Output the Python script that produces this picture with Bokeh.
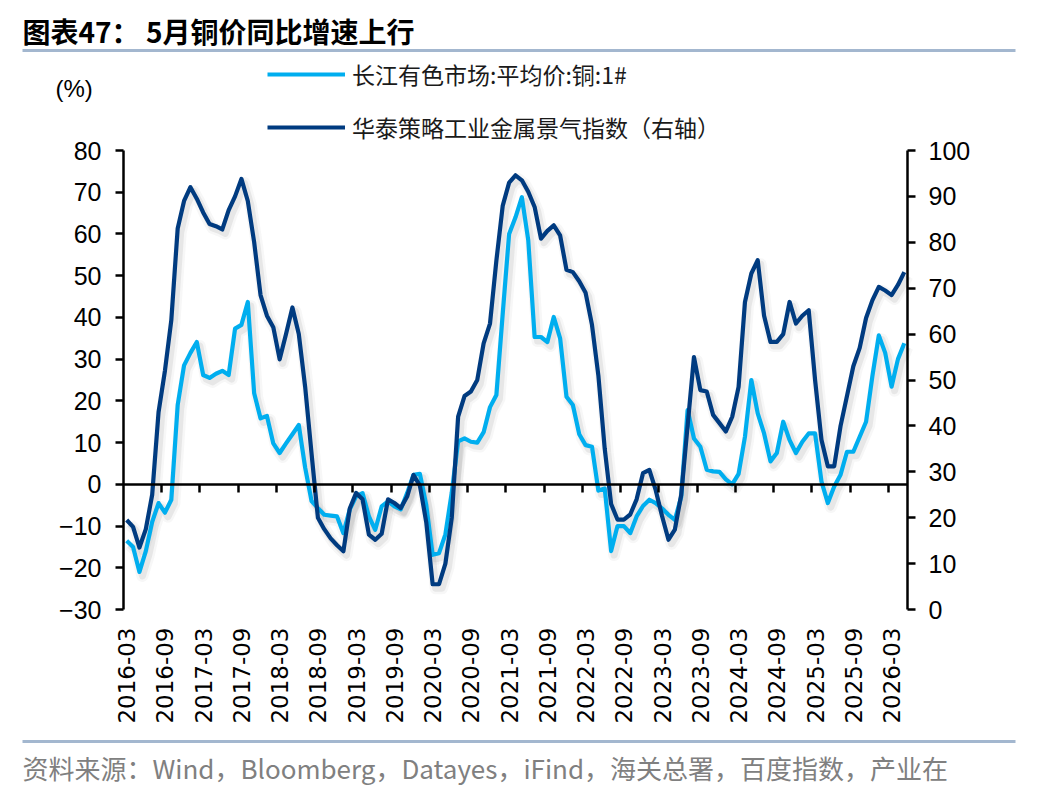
import math
from bokeh.plotting import figure
from bokeh.models import (Range1d, LinearAxis, FixedTicker, Label, Legend,
                          LegendItem, BoxAnnotation)
from bokeh.embed import file_html
from bokeh.resources import INLINE

# ---------------- data ----------------
months = [f"{2016 + (2 + k) // 12}-{(2 + k) % 12 + 1:02d}" for k in range(123)]  # 2016-03 .. 2026-05

# 长江有色市场:平均价:铜:1#  同比 (%)  -- left axis
copper_yoy = [
    -13.5, -15, -21, -16, -9, -4.5, -6.8, -3.7, 19, 28.5,
    31.5, 34.1, 26.2, 25.5, 26.5, 27.2, 26.2, 37.3, 38.2, 43.7,
    21.8, 15.8, 16.4, 9.8, 7.5, 9.8, 12, 14.2, 4, -4,
    -5.7, -7.3, -7.5, -7.7, -11.7, -6, -2.9, -2.1, -7.7, -10.9,
    -5.3, -4.1, -5.3, -6, -2.1, 2.3, 2.5, -5, -16.9, -16.5,
    -12, -2, 10.3, 11, 10.2, 10, 12.5, 18.5, 21.4, 41,
    60, 64, 68.8, 58.5, 35.3, 35.3, 34.1, 40.1, 35, 21,
    19, 12, 9.4, 9, -1.5, -1, -16, -10, -10, -11.7,
    -7.7, -5.2, -3.7, -4.5, -5.8, -7.3, -8.5, -3, 17.8, 11,
    9, 3.5, 3.1, 3, 1.2, 0, 2.5, 11.4, 25, 17,
    12.2, 5.5, 7.5, 15, 10.6, 7.5, 10.2, 12.2, 12.2, 0.7,
    -4.5, -0.5, 2.3, 7.8, 7.8, 11.4, 15, 26, 35.7, 31.5,
    23.4, 30, 33.8,
]

# 华泰策略工业金属景气指数 -- right axis
metal_index = [
    19.5, 18, 13.5, 17.5, 25, 43, 52, 63, 83, 89,
    92, 89.5, 86.5, 84, 83.5, 82.8, 87, 90, 93.8, 89,
    80, 68.5, 64, 61.5, 54.5, 60, 65.8, 60, 48.5, 34,
    20, 17.5, 15.5, 14, 12.7, 22, 25.4, 24, 16.3, 15.2,
    16.5, 24, 23.2, 22.1, 24.6, 29.3, 27, 19, 5.5, 5.5,
    10, 20, 42, 46.5, 47.5, 50, 58, 62.3, 76, 88,
    93, 94.6, 93.5, 91, 87.7, 80.8, 82.5, 83.7, 81.5, 74,
    73.5, 71.5, 69, 62, 51, 35, 23, 19.6, 19.6, 20.7,
    24, 29.7, 30.4, 26, 20.3, 15.2, 17.4, 25, 40, 55,
    47.8, 47.5, 42.4, 40.6, 38.8, 42, 48.5, 67, 73.2, 76.1,
    64, 58.3, 58.3, 60, 67, 62.3, 64, 65.2, 50, 37,
    31.2, 31.2, 40, 46.5, 53, 57, 63.5, 67.4, 70.3, 69.5,
    68.5, 70.7, 73.5,
]

left_ticks = [-30, -20, -10, 0, 10, 20, 30, 40, 50, 60, 70, 80]
right_ticks = [0, 10, 20, 30, 40, 50, 60, 70, 80, 90, 100]
label_idx = list(range(0, 121, 6))
tick_labels = [months[i] for i in label_idx]

series_names = ["长江有色市场:平均价:铜:1#", "华泰策略工业金属景气指数（右轴）"]
title_text = "图表47： 5月铜价同比增速上行"
source_text = "资料来源：Wind，Bloomberg，Datayes，iFind，海关总署，百度指数，产业在"

# ---------------- style / layout ----------------
LIGHT = "#00AEEF"
DARK = "#003B80"
RULE = "#A3B7CF"
CJK = "Noto Sans CJK SC"
SANS = "Liberation Sans"

W, H = 1048, 792
FL, FR, FT, FB = 123, 907, 150, 609      # plot-area edges in page pixels
N = len(months)
LMIN, LMAX = -30, 80
RMIN, RMAX = 0, 100

# the figure's frame is the whole page; axes sit at fixed locations inside it
ux = (FR - FL) / N                 # px per month
ul = (FB - FT) / (LMAX - LMIN)     # px per left unit
ur = (FB - FT) / (RMAX - RMIN)     # px per right unit
x0 = -0.5 - FL / ux
x1 = (N - 0.5) + (W - FR) / ux
yl0 = LMIN - (H - FB) / ul
yl1 = LMAX + FT / ul
yr0 = RMIN - (H - FB) / ur
yr1 = RMAX + FT / ur


def dx(px):
    return x0 + px / ux


def dy(py):
    return yl1 - py / ul


p = figure(width=W, height=H, output_backend="svg", toolbar_location=None,
           x_range=Range1d(x0, x1), y_range=Range1d(yl0, yl1),
           x_axis_type=None, y_axis_type=None,
           min_border=0, min_border_left=0, min_border_right=0,
           min_border_top=0, min_border_bottom=0)
p.outline_line_color = None
p.background_fill_color = "white"
p.border_fill_color = "white"

sh_x, sh_y = 3, 4   # shadow offset in px
p.extra_x_ranges = {"sx": Range1d(x0 - sh_x / ux, x1 - sh_x / ux)}
p.extra_y_ranges = {"right": Range1d(yr0, yr1),
                    "syl": Range1d(yl0 + sh_y / ul, yl1 + sh_y / ul),
                    "syr": Range1d(yr0 + sh_y / ur, yr1 + sh_y / ur)}


def style_axis(ax):
    ax.axis_line_color = "black"
    ax.axis_line_width = 2.5
    ax.major_tick_line_color = "black"
    ax.major_tick_line_width = 2.5
    ax.major_tick_out = 8
    ax.major_tick_in = 0
    ax.minor_tick_line_color = None
    ax.major_label_text_font = SANS
    ax.major_label_text_font_size = "25px"
    ax.major_label_text_color = "black"


ax_l = LinearAxis(ticker=FixedTicker(ticks=left_ticks), fixed_location=-0.5,
                  bounds=(LMIN, LMAX))
style_axis(ax_l)
ax_l.major_label_standoff = 14
p.add_layout(ax_l, "left")

ax_r = LinearAxis(y_range_name="right", ticker=FixedTicker(ticks=right_ticks),
                  fixed_location=N - 0.5, bounds=(RMIN, RMAX))
style_axis(ax_r)
ax_r.major_label_standoff = 13
p.add_layout(ax_r, "right")

# category axis crossing at 0, ticks on category boundaries every 6 months
ax_0 = LinearAxis(ticker=FixedTicker(ticks=[i - 0.5 for i in label_idx if i > 0]),
                  fixed_location=0, bounds=(-0.5, N - 0.5))
style_axis(ax_0)
ax_0.major_label_text_alpha = 0
ax_0.major_label_text_font_size = "1px"
p.add_layout(ax_0, "below")

# date labels at the bottom of the plot area
ax_b = LinearAxis(ticker=FixedTicker(ticks=label_idx), fixed_location=LMIN,
                  major_label_overrides={i: lab for i, lab in zip(label_idx, tick_labels)})
ax_b.axis_line_color = None
ax_b.major_tick_line_color = None
ax_b.minor_tick_line_color = None
ax_b.major_label_orientation = math.pi / 2
ax_b.major_label_text_font = "DejaVu Sans"
ax_b.major_label_text_font_size = "23px"
ax_b.major_label_text_color = "black"
ax_b.major_label_standoff = 12
p.add_layout(ax_b, "below")

x = list(range(N))

# soft shadows
for w, a in ((12, 0.04), (7, 0.08)):
    p.line(x, copper_yoy, x_range_name="sx", y_range_name="syl",
           line_color="#333333", line_alpha=a, line_width=w, line_join="round")
    p.line(x, metal_index, x_range_name="sx", y_range_name="syr",
           line_color="#333333", line_alpha=a, line_width=w, line_join="round")

r_light = p.line(x, copper_yoy, line_color=LIGHT, line_width=4.2, line_join="round")
r_dark = p.line(x, metal_index, y_range_name="right", line_color=DARK, line_width=4.2,
                line_join="round")

# legend: rows centred at page y 75 and 127; location = bottom-left corner
legend = Legend(items=[LegendItem(label=series_names[0], renderers=[r_light]),
                       LegendItem(label=series_names[1], renderers=[r_dark])],
                location=(267, H - 143.5), orientation="vertical",
                glyph_width=78, glyph_height=30, label_height=30, spacing=19,
                padding=0, margin=0, label_standoff=7,
                border_line_color=None, background_fill_alpha=0,
                label_text_font=CJK, label_text_font_size="23px",
                label_text_color="#1a1a1a")
p.add_layout(legend)


def page_label(text, px, py, size, color, font, style="normal"):
    return Label(x=dx(px), y=dy(py), text=text, text_font=font, text_font_size=size,
                 text_color=color, text_font_style=style, text_align="left",
                 text_baseline="middle")


p.add_layout(page_label(title_text, 22, 30, "28px", "black", CJK, "bold"))
p.add_layout(page_label("(%)", 55, 88, "24px", "black", SANS))
p.add_layout(page_label(source_text, 22, 767, "26px", "#808080", CJK))

# rules under the title and above the source line
for py in (50, 741):
    p.add_layout(BoxAnnotation(left=dx(22), right=dx(1015), top=dy(py - 1.5),
                               bottom=dy(py + 1.5), fill_color=RULE, fill_alpha=1,
                               line_color=None))

open("out.html", "w").write(file_html(p, INLINE))
